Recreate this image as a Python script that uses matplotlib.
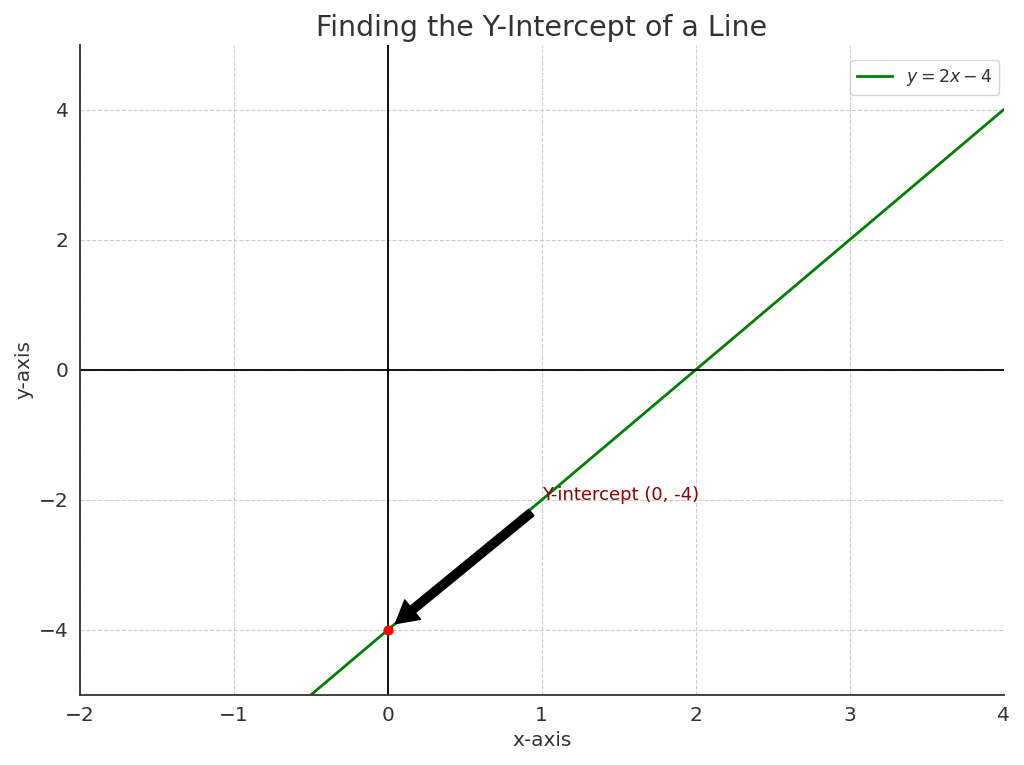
import matplotlib

matplotlib.use("Agg")
import matplotlib.pyplot as plt
import numpy as np

# line y = 2x - 4 sampled across the view
x_vals = np.array([-2.0, 4.0])
slope = 2.0
intercept = -4.0
y_vals = slope * x_vals + intercept

point_x = [0]
point_y = [-4]
label_text = "Y-intercept (0, -4)"
text_pos = (1, -2)

TEXT = "#333333"
plt.rcParams["text.color"] = TEXT
plt.rcParams["axes.labelcolor"] = TEXT
plt.rcParams["xtick.color"] = TEXT
plt.rcParams["ytick.color"] = TEXT

fig = plt.figure(figsize=(10.24, 7.65), dpi=100)
ax = fig.add_axes([0.078, 0.0915, 0.902, 0.85])

ax.plot(x_vals, y_vals, color="green", lw=2, label=r"$y = 2x - 4$")
ax.axhline(0, color="black", lw=1.3)
ax.axvline(0, color="black", lw=1.3)
ax.scatter(point_x, point_y, color="red", s=40, zorder=5)
ax.annotate(label_text, xy=(point_x[0], point_y[0]), xytext=text_pos,
            color="darkred", fontsize=13,
            arrowprops=dict(facecolor="black", shrink=0.05,
                            width=6, headwidth=18, headlength=16))

ax.set_xlim(-2, 4)
ax.set_ylim(-5, 5)
ax.set_xticks(range(-2, 5))
ax.set_yticks(range(-4, 5, 2))
ax.grid(True, ls="--", color="#cccccc", lw=0.8)
ax.tick_params(length=0, labelsize=14.5, pad=8)
for s in ["top", "right"]:
    ax.spines[s].set_visible(False)
for s in ["left", "bottom"]:
    ax.spines[s].set_color(TEXT)
    ax.spines[s].set_linewidth(1.3)

ax.set_title("Finding the Y-Intercept of a Line", fontsize=20.5)
ax.set_xlabel("x-axis", fontsize=14.5)
ax.set_ylabel("y-axis", fontsize=14.5)
ax.legend(loc="upper right", fontsize=12.5, bbox_to_anchor=(1.005, 0.99))

fig.savefig("out.png", dpi=100)
